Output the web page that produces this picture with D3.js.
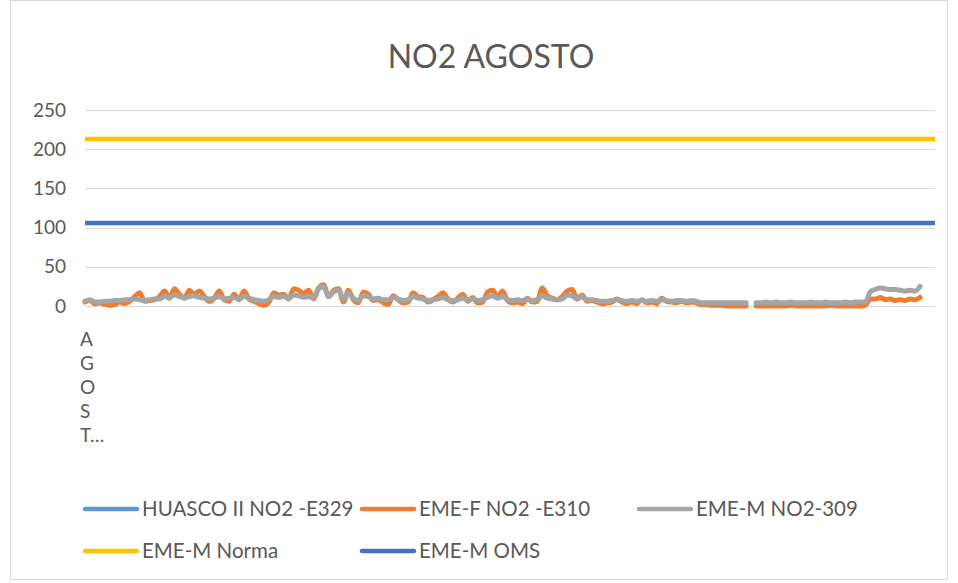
<!DOCTYPE html>
<html><head><meta charset="utf-8">
<script src="https://cdn.jsdelivr.net/npm/d3@7"></script>
<style>body{margin:0;background:#fff}svg{display:block;font-family:Lato,"Open Sans",sans-serif}</style>
</head><body><svg id="c" width="958" height="583"></svg>
<script>
// ---- data (hourly NO2, August) ----
const categoryLabel = "AGOSTO…";
const seriesNames = ["HUASCO II NO2 -E329","EME-F NO2 -E310","EME-M NO2-309","EME-M Norma","EME-M OMS"];
const huascoValues = []; // no visible data
const emeFValues = [5,7,3,4,2,1,2,5,3,6,
 12,17,6,7,8,12,19,10,22,15,10,20,15,
 19,12,6,10,19,8,6,15,8,19,9,6,3,1,5,17,14,15,9,22,20,16,20,9,
 23,27,12,20,22,5,20,8,4,18,15,7,8,4,2,13,8,4,5,17,12,11,5,8,
 12,17,9,5,10,15,6,11,4,5,18,20,12,19,7,4,5,3,10,5,6,23,13,10,8,
 12,19,21,9,14,6,7,5,3,4,5,9,5,3,5,3,8,4,5,3,10,6,5,4,
 6,4,5,4,2,2,1,1,1,0,0,0,0,0,null,0,0,0,0,0,0,0,1,0,
 0,0,0,0,0,0,1,0,0,0,0,0,0,1,9,9,11,8,9,7,8,7,9,8,11,
 null,null,null];
const emeMValues = [6,8,5,5,6,6,7,7,8,8,
 9,8,7,8,9,9,12,11,14,12,10,12,13,
 11,10,9,10,12,9,10,11,9,12,10,8,7,6,8,12,11,12,10,14,13,11,12,10,
 22,25,12,18,20,8,17,10,7,13,12,9,10,8,8,11,9,7,8,12,10,9,7,8,
 9,11,8,7,8,10,8,9,7,8,11,13,10,12,8,7,8,7,9,7,8,13,10,9,8,
 9,14,13,9,12,8,8,7,6,6,7,8,7,6,7,6,7,6,7,6,8,7,6,7,
 7,6,7,6,4,4,4,4,4,4,4,4,4,4,null,4,4,5,4,5,4,4,5,4,
 4,4,5,4,4,5,4,4,4,5,4,5,5,5,18,21,23,22,21,21,20,19,20,19,25,
 null,null,null];
const normaLevel = 213;
const omsLevel = 106;
const yTicks = [0,50,100,150,200,250];
const colors = ["#5B9BD5","#ED7D31","#A5A5A5","#FFC000","#4472C4"];

const svg = d3.select("#c");
svg.append("rect").attr("x",10.5).attr("y",0.5).attr("width",937).attr("height",579)
  .attr("fill","#fff").attr("stroke","#d9d9d9");

const N = emeFValues.length;
const x = d3.scaleLinear().domain([0,N-1]).range([85,935]);
const y = d3.scaleLinear().domain([0,250]).range([306,110]);

// gridlines
svg.append("g").selectAll("line").data(yTicks).join("line")
  .attr("x1",85).attr("x2",935).attr("y1",d=>Math.round(y(d))+0.5).attr("y2",d=>Math.round(y(d))+0.5)
  .attr("stroke","#d9d9d9").attr("stroke-width",1);

// y axis labels
const yAxis = d3.axisLeft(y).tickValues(yTicks).tickSize(0).tickPadding(0);
const ga = svg.append("g").attr("transform","translate(66,0)").call(yAxis);
ga.select(".domain").remove();
ga.selectAll("text").attr("font-size",19).attr("fill","#595959").attr("font-family","Lato,sans-serif");

// category label (vertical stacked)
const letters = ["A","G","O","S","T…"];
svg.append("g").selectAll("text").data(letters).join("text")
  .attr("x",80).attr("y",(d,i)=>346+i*24).text(d=>d)
  .attr("font-size",19).attr("fill","#595959");

// title
svg.append("text").attr("x",491).attr("y",68).attr("text-anchor","middle")
  .attr("font-size",32).attr("fill","#595959").text("NO2 AGOSTO");

const line = d3.line().defined(d=>d!=null).x((d,i)=>x(i)).y(d=>y(d)).curve(d3.curveMonotoneX);

// reference lines
svg.append("path").datum([normaLevel,normaLevel]).attr("fill","none").attr("stroke",colors[3]).attr("stroke-width",4.5)
  .attr("d",d3.line().x((d,i)=>x(i*(N-1))).y(d=>y(d)));
svg.append("path").datum([omsLevel,omsLevel]).attr("fill","none").attr("stroke",colors[4]).attr("stroke-width",4.5)
  .attr("d",d3.line().x((d,i)=>x(i*(N-1))).y(d=>y(d)));

[[huascoValues,colors[0]],[emeFValues,colors[1]],[emeMValues,colors[2]]].forEach(([vals,c])=>{
  if(!vals.length) return;
  svg.append("path").datum(vals).attr("fill","none").attr("stroke",c).attr("stroke-width",5)
    .attr("stroke-linejoin","round").attr("stroke-linecap","round").attr("d",line);
});

// legend
const legendPos = [[85,509],[362,509],[639,509],[85,551],[362,551]];
const lg = svg.append("g").selectAll("g").data(seriesNames).join("g")
  .attr("transform",(d,i)=>`translate(${legendPos[i][0]},${legendPos[i][1]})`);
lg.append("line").attr("x1",0).attr("x2",52).attr("y1",0).attr("y2",0)
  .attr("stroke",(d,i)=>colors[i]).attr("stroke-width",4.5).attr("stroke-linecap","round");
lg.append("text").attr("x",57).attr("y",7).attr("font-size",20.5).attr("fill","#595959").text(d=>d);
</script></body></html>
